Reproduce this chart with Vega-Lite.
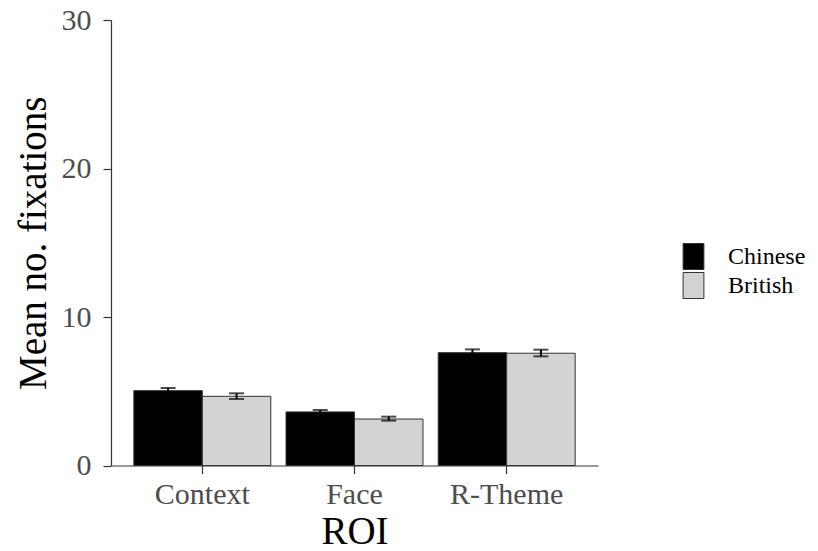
{
  "$schema": "https://vega.github.io/schema/vega-lite/v6.json",
  "autosize": "none",
  "padding": {"left": 111, "top": 20, "right": 220, "bottom": 85.5},
  "width": 487,
  "height": 445.5,
  "background": "white",
  "config": {
    "view": {"stroke": null},
    "font": "Liberation Serif",
    "axis": {
      "grid": false,
      "domainColor": "#333333",
      "domainWidth": 1.2,
      "tickColor": "#333333",
      "tickWidth": 1.2,
      "tickSize": 8,
      "labelColor": "#4D4D4D",
      "labelFontSize": 30,
      "labelFont": "Liberation Serif",
      "titleFont": "Liberation Serif",
      "titleFontSize": 39,
      "titleFontWeight": "normal",
      "titleColor": "#000000"
    },
    "legend": {
      "labelFont": "Liberation Serif"
    }
  },
  "data": {
    "values": [
      {"ROI": "Context", "Group": "Chinese", "mean": 5.04, "lo": 4.86, "hi": 5.22},
      {"ROI": "Context", "Group": "British", "mean": 4.66, "lo": 4.48, "hi": 4.86},
      {"ROI": "Face", "Group": "Chinese", "mean": 3.61, "lo": 3.49, "hi": 3.74},
      {"ROI": "Face", "Group": "British", "mean": 3.13, "lo": 3.02, "hi": 3.29},
      {"ROI": "R-Theme", "Group": "Chinese", "mean": 7.6, "lo": 7.38, "hi": 7.82},
      {"ROI": "R-Theme", "Group": "British", "mean": 7.56, "lo": 7.35, "hi": 7.8}
    ]
  },
  "encoding": {
    "x": {
      "field": "ROI",
      "type": "nominal",
      "sort": ["Context", "Face", "R-Theme"],
      "scale": {"paddingInner": 0.1, "paddingOuter": 0.15},
      "axis": {"labelAngle": 0, "labelPadding": 6, "titlePadding": 3, "title": "ROI"}
    },
    "xOffset": {
      "field": "Group",
      "type": "nominal",
      "sort": ["Chinese", "British"],
      "scale": {"paddingInner": 0, "paddingOuter": 0}
    }
  },
  "layer": [
    {
      "mark": {"type": "bar", "stroke": "#333333", "strokeWidth": 1},
      "encoding": {
        "y": {
          "field": "mean",
          "type": "quantitative",
          "scale": {"domain": [0, 30], "nice": false},
          "axis": {"values": [0, 10, 20, 30], "labelPadding": 12, "titlePadding": 8, "title": "Mean no. fixations"}
        },
        "color": {
          "field": "Group",
          "type": "nominal",
          "sort": ["Chinese", "British"],
          "scale": {"domain": ["Chinese", "British"], "range": ["#000000", "#D3D3D3"]},
          "legend": {
            "title": null,
            "orient": "none",
            "legendX": 569,
            "legendY": 223,
            "padding": 0,
            "symbolType": "M-0.8,-1H0.8V1H-0.8Z",
            "symbolSize": 676,
            "symbolStrokeColor": "#333333",
            "symbolStrokeWidth": 1,
            "symbolOpacity": 1,
            "labelFontSize": 24,
            "labelColor": "#000000",
            "labelOffset": 21,
            "rowPadding": -3
          }
        }
      }
    },
    {
      "mark": {"type": "rule", "color": "#000000", "strokeWidth": 2},
      "encoding": {
        "y": {"field": "lo", "type": "quantitative"},
        "y2": {"field": "hi"}
      }
    },
    {
      "mark": {"type": "tick", "color": "#000000", "thickness": 2, "size": 15, "orient": "horizontal"},
      "encoding": {
        "y": {"field": "lo", "type": "quantitative"}
      }
    },
    {
      "mark": {"type": "tick", "color": "#000000", "thickness": 2, "size": 15, "orient": "horizontal"},
      "encoding": {
        "y": {"field": "hi", "type": "quantitative"}
      }
    }
  ]
}
